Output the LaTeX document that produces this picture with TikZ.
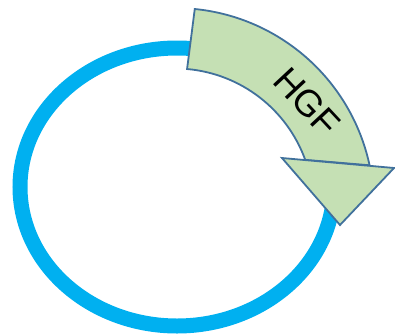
\documentclass[tikz,border=0pt]{standalone}
\usepackage{fontspec}
\setmainfont{Liberation Sans}
\definecolor{ringblue}{HTML}{00B0F0}
\definecolor{arrowgreen}{HTML}{C5E0B4}
\definecolor{edgeblue}{HTML}{41719C}
\tikzset{
  ring/.style={draw=ringblue, line width=15pt},
  greenshape/.style={fill=arrowgreen, draw=edgeblue, line width=1.8pt, line join=miter},
  label/.style={font=\fontsize{37}{40}\selectfont, text=black, inner sep=0pt}
}
\begin{document}
\begin{tikzpicture}[x=1pt, y=1pt]
\useasboundingbox (0,0) rectangle (395,333);
% blue ring
\draw[ring] (177,146) ellipse [x radius=157, y radius=139];
% curved band
\coordinate (c) at (175,126);
\path[greenshape] ([shift={(c)}]84.3:199) coordinate (os)
  arc [start angle=84.3, end angle=12.1, radius=199] coordinate (oe)
  -- ([shift={(c)}]19.9:138.5) coordinate (ie)
  arc [start angle=19.9, end angle=85, radius=138.5] coordinate (is)
  -- cycle;
% arrow head
\coordinate (hl) at (282,175);
\coordinate (hr) at (394,165);
\coordinate (ht) at (340,108);
\path[greenshape] (hl) -- (hr) -- (ht) -- cycle;
% label
\node[label, rotate=-47] (hgf) at (307,231) {HGF};
\end{tikzpicture}
\end{document}
